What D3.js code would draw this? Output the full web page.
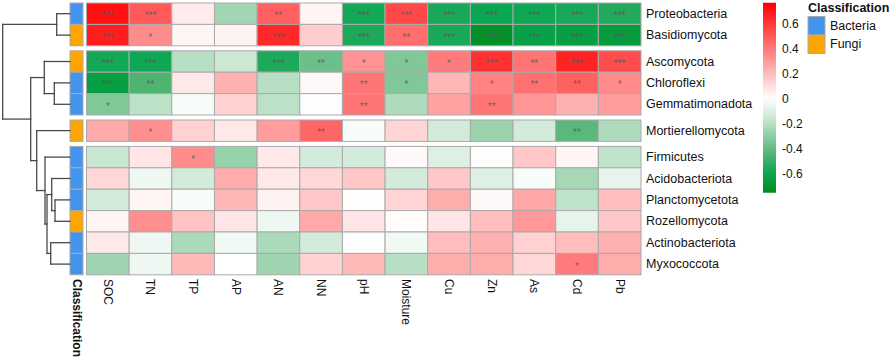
<!DOCTYPE html>
<html>
<head>
<meta charset="utf-8">
<script src="https://d3js.org/d3.v7.min.js"></script>
<style>
  body { margin: 0; background: #fff; }
  text { font-family: Arial, "Liberation Sans", sans-serif; }
</style>
</head>
<body>
<div id="chartHere"></div>
<script>

// ---- data ----
var taxa = ['Proteobacteria','Basidiomycota','Ascomycota','Chloroflexi','Gemmatimonadota',
            'Mortierellomycota','Firmicutes','Acidobacteriota','Planctomycetota','Rozellomycota',
            'Actinobacteriota','Myxococcota'];
var kingdom = ['Bacteria','Fungi','Fungi','Bacteria','Bacteria','Fungi',
               'Bacteria','Bacteria','Bacteria','Fungi','Bacteria','Bacteria'];
var clusterOf = [0,0,1,1,1,2,3,3,3,3,3,3];   // row tree cut into 4 groups
var vars = ['SOC','TN','TP','AP','AN','NN','pH','Moisture','Cu','Zn','As','Cd','Pb'];

var corr = [
  [ 0.72, 0.50, 0.06,-0.25, 0.48, 0.03,-0.58, 0.55,-0.57,-0.60,-0.59,-0.57,-0.55],
  [ 0.68, 0.35, 0.03, 0.04, 0.65, 0.15,-0.56, 0.44,-0.57,-0.72,-0.63,-0.64,-0.66],
  [-0.58,-0.59,-0.20,-0.15,-0.56,-0.38, 0.33,-0.33, 0.40, 0.62, 0.42, 0.66, 0.54],
  [-0.64,-0.45, 0.07, 0.24,-0.20, 0.02, 0.42,-0.33, 0.22, 0.38, 0.43, 0.48, 0.35],
  [-0.33,-0.19,-0.02, 0.14,-0.19,-0.01, 0.42,-0.22, 0.28, 0.42, 0.32, 0.24, 0.30],
  [ 0.26, 0.34, 0.14, 0.07, 0.30, 0.46,-0.02, 0.13,-0.13,-0.27,-0.13,-0.42,-0.22],
  [-0.16, 0.08, 0.35,-0.28, 0.07,-0.13,-0.13, 0.02,-0.10, 0.01, 0.17, 0.03,-0.18],
  [ 0.12,-0.05,-0.13, 0.25, 0.07, 0.12, 0.17,-0.13, 0.17,-0.10,-0.02,-0.24,-0.07],
  [-0.13, 0.03,-0.02, 0.22, 0.04, 0.17, 0.01, 0.13, 0.25, 0.02, 0.27,-0.18, 0.20],
  [ 0.03, 0.34, 0.18, 0.08,-0.05, 0.26, 0.08, 0.01, 0.08, 0.20, 0.31,-0.07, 0.17],
  [ 0.07,-0.05,-0.23,-0.04,-0.23,-0.13,-0.01,-0.04, 0.20, 0.24, 0.14, 0.20, 0.24],
  [-0.26,-0.05, 0.21, 0.00,-0.26, 0.14, 0.21,-0.20, 0.25, 0.25, 0.12, 0.40, 0.25]
];

var sig = [
  ['***','***','','','**','','***','***','***','***','***','***','***'],
  ['***','*','','','***','','***','**','***','***','***','***','***'],
  ['***','***','','','***','**','*','*','*','***','**','***','***'],
  ['***','**','','','','','**','*','','*','**','**','*'],
  ['*','','','','','','**','','','**','','',''],
  ['','*','','','','**','','','','','','**',''],
  ['','','*','','','','','','','','','',''],
  ['','','','','','','','','','','','',''],
  ['','','','','','','','','','','','',''],
  ['','','','','','','','','','','','',''],
  ['','','','','','','','','','','','',''],
  ['','','','','','','','','','','','*','']
];

// row dendrogram: merge heights
var rowTree = {h: 67.3, children: [
  {h: 13.3, children: [{name: 'Proteobacteria'}, {name: 'Basidiomycota'}]},
  {h: 39.3, children: [
    {h: 25.7, children: [{name: 'Ascomycota'},
      {h: 15.7, children: [{name: 'Chloroflexi'}, {name: 'Gemmatimonadota'}]}]},
    {h: 33.3, children: [{name: 'Mortierellomycota'},
      {h: 25, children: [{name: 'Firmicutes'},
        {h: 23, children: [
          {h: 18.3, children: [{name: 'Acidobacteriota'},
            {h: 15, children: [{name: 'Planctomycetota'}, {name: 'Rozellomycota'}]}]},
          {h: 19.3, children: [{name: 'Actinobacteriota'}, {name: 'Myxococcota'}]}
        ]}
      ]}
    ]}
  ]}
]};

var kingdomNames = ['Bacteria','Fungi'];
var kingdomColors = ['#4394ee','#ffa500'];
var legendTicks = [0.6, 0.4, 0.2, 0, -0.2, -0.4, -0.6];
var colorStops = [-0.75, -0.6, -0.45, -0.3, -0.15, 0, 0.77];
var colorRange = ['#008c1e','#0aa651','#4fb372','#8dcda2','#cce8d5','#ffffff','#ff0000'];

// ---- layout ----
var W = 892, H = 362;
var heat = {left: 86.5, right: 641, top: 3};
var rowH = 21.4, gap = 5;
var annot = {x: 70, w: 13};

var svg = d3.select('#chartHere').append('svg')
    .attr('width', W).attr('height', H);

var xScale = d3.scaleBand().domain(vars).range([heat.left, heat.right]);
function rowTop(i) { return heat.top + i * rowH + clusterOf[i] * gap; }
var yIndex = {};
taxa.forEach(function (t, i) { yIndex[t] = i; });

var color = d3.scaleLinear().domain(colorStops).range(colorRange).interpolate(d3.interpolateRgb);

// cells
var cells = [];
corr.forEach(function (row, i) {
  row.forEach(function (v, j) { cells.push({i: i, j: j, v: v, s: sig[i][j]}); });
});

svg.append('g').selectAll('rect.cell')
  .data(cells).enter().append('rect')
    .attr('class', 'cell')
    .attr('x', function (d) { return xScale(vars[d.j]); })
    .attr('y', function (d) { return rowTop(d.i); })
    .attr('width', xScale.bandwidth())
    .attr('height', rowH)
    .attr('fill', function (d) { return color(d.v); })
    .attr('stroke', '#aaaaaa')
    .attr('stroke-width', 1);

svg.append('g').selectAll('text.star')
  .data(cells.filter(function (d) { return d.s; })).enter().append('text')
    .attr('x', function (d) { return xScale(vars[d.j]) + xScale.bandwidth() / 2; })
    .attr('y', function (d) { return rowTop(d.i) + rowH / 2 + 5.5; })
    .attr('text-anchor', 'middle')
    .attr('font-size', 10)
    .attr('fill', '#555')
    .attr('fill-opacity', 0.8)
    .text(function (d) { return d.s; });

// annotation column
svg.append('g').selectAll('rect.annot')
  .data(taxa).enter().append('rect')
    .attr('x', annot.x)
    .attr('y', function (d, i) { return rowTop(i); })
    .attr('width', annot.w)
    .attr('height', rowH)
    .attr('fill', function (d, i) { return kingdomColors[kingdomNames.indexOf(kingdom[i])]; })
    .attr('stroke', '#aaaaaa')
    .attr('stroke-width', 1);

// row labels
svg.append('g').selectAll('text.rowlab')
  .data(taxa).enter().append('text')
    .attr('x', heat.right + 5)
    .attr('y', function (d, i) { return rowTop(i) + rowH / 2; })
    .attr('dominant-baseline', 'central')
    .attr('font-size', 12.5)
    .attr('fill', '#111')
    .text(function (d) { return d; });

// column labels (rotated)
var colY = 279;
svg.append('g').selectAll('text.collab')
  .data(vars).enter().append('text')
    .attr('transform', function (d) {
      return 'translate(' + (xScale(d) + xScale.bandwidth() / 2) + ',' + colY + ') rotate(90)'; })
    .attr('dominant-baseline', 'central')
    .attr('font-size', 12)
    .attr('fill', '#111')
    .text(function (d) { return d; });

svg.append('text')
    .attr('transform', 'translate(' + (annot.x + annot.w / 2) + ',' + colY + ') rotate(90)')
    .attr('dominant-baseline', 'central')
    .attr('font-size', 12)
    .attr('font-weight', 'bold')
    .attr('fill', '#111')
    .text('Classification');

// dendrogram
var root = d3.hierarchy(rowTree);
var hx = d3.scaleLinear().domain([0, rowTree.h]).range([annot.x, 2.7]);
root.eachAfter(function (n) {
  if (!n.children) {
    n.py = rowTop(yIndex[n.data.name]) + rowH / 2;
    n.hh = 0;
  } else {
    n.py = d3.mean(n.children, function (c) { return c.py; });
    n.hh = n.data.h;
  }
});
var segs = [];
root.each(function (n) {
  if (!n.children) return;
  var ys = n.children.map(function (c) { return c.py; });
  segs.push([hx(n.hh), d3.min(ys), hx(n.hh), d3.max(ys)]);
  n.children.forEach(function (c) { segs.push([hx(n.hh), c.py, hx(c.hh), c.py]); });
});
svg.append('g').selectAll('line.dendro')
  .data(segs).enter().append('line')
    .attr('x1', function (d) { return d[0]; })
    .attr('y1', function (d) { return d[1]; })
    .attr('x2', function (d) { return d[2]; })
    .attr('y2', function (d) { return d[3]; })
    .attr('stroke', '#4a4a4a')
    .attr('stroke-width', 1.3)
    .attr('stroke-linecap', 'square');

// colour bar legend
var barX = 763, barW = 13;
var legY = d3.scaleLinear().domain([0, 0.6]).range([99, 24]);
var grad = svg.append('defs').append('linearGradient')
    .attr('id', 'cbar').attr('x1', 0).attr('y1', 1).attr('x2', 0).attr('y2', 0);
var lo = colorStops[0], hi = colorStops[colorStops.length - 1];
d3.range(0, 1.0001, 0.05).forEach(function (t) {
  grad.append('stop')
    .attr('offset', t)
    .attr('stop-color', color(lo + t * (hi - lo)));
});
svg.append('rect')
    .attr('x', barX).attr('y', legY(hi))
    .attr('width', barW).attr('height', legY(lo) - legY(hi))
    .attr('fill', 'url(#cbar)');
svg.append('g').selectAll('text.tick')
  .data(legendTicks).enter().append('text')
    .attr('x', barX + barW + 6)
    .attr('y', function (d) { return legY(d); })
    .attr('dominant-baseline', 'central')
    .attr('font-size', 12)
    .attr('fill', '#111')
    .text(function (d) { return d; });

// classification legend
var lg = svg.append('g').attr('transform', 'translate(808,0)');
lg.append('text')
    .attr('x', 0).attr('y', 12)
    .attr('font-size', 12.5)
    .attr('font-weight', 'bold')
    .attr('fill', '#111')
    .text('Classification');
lg.selectAll('rect.key')
  .data(kingdomNames).enter().append('rect')
    .attr('x', 0)
    .attr('y', function (d, i) { return 16.5 + i * 18.5; })
    .attr('width', 17)
    .attr('height', 18.5)
    .attr('fill', function (d, i) { return kingdomColors[i]; })
    .attr('stroke', '#aaaaaa');
lg.selectAll('text.key')
  .data(kingdomNames).enter().append('text')
    .attr('x', 22)
    .attr('y', function (d, i) { return 16.5 + i * 18.5 + 9.25; })
    .attr('dominant-baseline', 'central')
    .attr('font-size', 12.5)
    .attr('fill', '#111')
    .text(function (d) { return d; });

</script>
</body>
</html>
